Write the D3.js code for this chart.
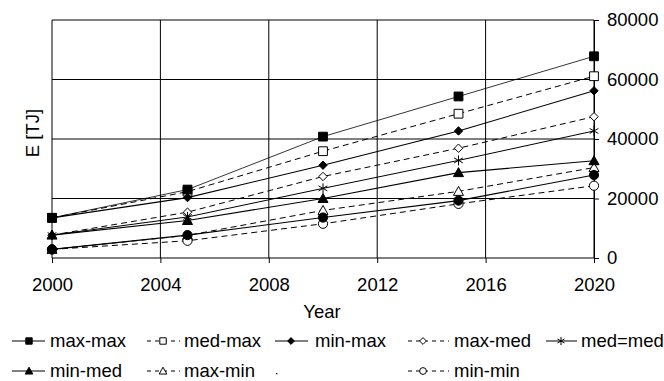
<!DOCTYPE html>
<html><head><meta charset="utf-8">
<script src="https://cdn.jsdelivr.net/npm/d3@7"></script>
<style>
html,body{margin:0;padding:0;background:#fff;}
svg{display:block;font-family:"Liberation Sans",Arial,sans-serif;}
</style></head>
<body>
<svg id="chart" width="664" height="381"></svg>
<script>
// ---- data ----
const years = [2000, 2005, 2010, 2015, 2020];
const xTicks = [2000, 2004, 2008, 2012, 2016, 2020];
const yTicks = [0, 20000, 40000, 60000, 80000];
const seriesNames = ["max-max","med-max","min-max","max-med","med=med","min-med","max-min","med-min","min-min"];
const legendLabels = ["max-max","med-max","min-max","max-med","med=med","min-med","max-min","","min-min"];
const maxMax = [13500, 23000, 40800, 54300, 67800];
const medMax = [13500, 22300, 35900, 48500, 61100];
const minMax = [13500, 20300, 31200, 42700, 56200];
const maxMed = [7700, 15400, 27400, 36900, 47500];
const medMed = [7700, 13800, 23400, 32800, 42700];
const minMed = [7700, 12600, 20000, 28700, 32700];
const maxMin = [2900, 7600, 16000, 22400, 30400];
const medMin = [2900, 7700, 13600, 19300, 27900];
const minMin = [2900, 5800, 11500, 18200, 24300];
const seriesValues = [maxMax, medMax, minMax, maxMed, medMed, minMed, maxMin, medMin, minMin];

// ---- styles ----
const styles = [
  {marker:"square",  fill:true,  dash:null, w:0.8},
  {marker:"square",  fill:false, dash:"6,4", w:1},
  {marker:"diamond", fill:true,  dash:null, w:1.1},
  {marker:"diamond", fill:false, dash:"6,4", w:1},
  {marker:"star",    fill:false, dash:null, w:1},
  {marker:"triangle",fill:true,  dash:null, w:1.1},
  {marker:"triangle",fill:false, dash:"6,4", w:1},
  {marker:"circle",  fill:true,  dash:null, w:1.1},
  {marker:"circle",  fill:false, dash:"6,4", w:1}
];

const svg = d3.select("#chart");
const L = 52, R = 594, T = 20, B = 258;
const x = d3.scaleLinear().domain([2000, 2020]).range([L, R]);
const y = d3.scaleLinear().domain([0, 80000]).range([B, T]);
const FS = 18.5, LFS = 18.5;

function markerPath(type, r) {
  const p = d3.path();
  if (type === "square") { p.rect(-r, -r, 2*r, 2*r); }
  else if (type === "diamond") { p.moveTo(0,-r); p.lineTo(r,0); p.lineTo(0,r); p.lineTo(-r,0); p.closePath(); }
  else if (type === "triangle") { p.moveTo(0,-r); p.lineTo(r,r*0.8); p.lineTo(-r,r*0.8); p.closePath(); }
  else if (type === "circle") { p.moveTo(r,0); p.arc(0,0,r,0,2*Math.PI); p.closePath(); }
  else if (type === "star") {
    p.moveTo(0,-r); p.lineTo(0,r);
    const a = r*0.87, b = r*0.5;
    p.moveTo(-a,-b); p.lineTo(a,b);
    p.moveTo(-a,b); p.lineTo(a,-b);
  }
  return p.toString();
}
const plotR = {square:4.4, diamond:4.2, triangle:5, circle:4.6, star:5};
const legR = {square:3.2, diamond:3.4, triangle:3.8, circle:3.4, star:4};

// grid
svg.append("g").selectAll("line.v").data(xTicks).join("line")
  .attr("x1", d => x(d)).attr("x2", d => x(d)).attr("y1", T).attr("y2", B)
  .attr("stroke", "#000").attr("stroke-width", 1);
svg.append("g").selectAll("line.h").data(yTicks).join("line")
  .attr("x1", L).attr("x2", R).attr("y1", d => y(d)).attr("y2", d => y(d))
  .attr("stroke", "#000").attr("stroke-width", 1);

// axes
const xAxis = svg.append("g").attr("transform", `translate(0,${B})`)
  .call(d3.axisBottom(x).tickValues(xTicks).tickFormat(d3.format("d")).tickSize(5).tickSizeOuter(0).tickPadding(15));
xAxis.select(".domain").remove();
xAxis.selectAll("text").attr("font-size", FS).attr("font-family", "Liberation Sans, Arial, sans-serif").attr("fill", "#000");
xAxis.selectAll("line").attr("stroke", "#000");

const yAxis = svg.append("g").attr("transform", `translate(${R},0)`)
  .call(d3.axisRight(y).tickValues(yTicks).tickFormat(d3.format("d")).tickSize(5).tickSizeOuter(0).tickPadding(8));
yAxis.select(".domain").attr("stroke", "#000");
yAxis.selectAll("text").attr("font-size", FS).attr("font-family", "Liberation Sans, Arial, sans-serif").attr("fill", "#000");
yAxis.selectAll("line").attr("stroke", "#000");

// axis titles
svg.append("text").attr("x", 322).attr("y", 318).attr("text-anchor", "middle")
  .attr("font-size", FS).text("Year");
svg.append("text").attr("transform", "translate(39,133) rotate(-90)").attr("text-anchor", "middle")
  .attr("font-size", FS).text("E [TJ]");

// lines
const line = d3.line().x((d, i) => x(years[i])).y(d => y(d));
const gLines = svg.append("g");
seriesValues.forEach((vals, k) => {
  const s = styles[k];
  gLines.append("path").attr("d", line(vals)).attr("fill", "none")
    .attr("stroke", "#000").attr("stroke-width", s.w)
    .attr("stroke-dasharray", s.dash);
});
// markers: hollow first, then filled
const order = d3.range(seriesValues.length).sort((a, b) => (styles[a].fill ? 1 : 0) - (styles[b].fill ? 1 : 0));
const gMarks = svg.append("g");
order.forEach(k => {
  const s = styles[k];
  gMarks.append("g").selectAll("path").data(seriesValues[k]).join("path")
    .attr("transform", (d, i) => `translate(${x(years[i])},${y(d)})`)
    .attr("d", markerPath(s.marker, plotR[s.marker]))
    .attr("fill", s.marker === "star" ? "none" : (s.fill ? "#000" : "#fff"))
    .attr("stroke", "#000").attr("stroke-width", 1);
});

// legend: per column line start, line end, marker x, text x
const legCols = [
  {x0:12,  x1:45,  m:29,  t:50},
  {x0:147, x1:180, m:163, t:184},
  {x0:275, x1:308, m:291, t:315},
  {x0:408, x1:449, m:423, t:454},
  {x0:546, x1:577, m:561, t:581}
];
const rowY = [341, 371];
legendLabels.forEach((lab, k) => {
  const c = legCols[k % 5], ry = rowY[Math.floor(k / 5)];
  const s = styles[k];
  const g = svg.append("g").attr("transform", `translate(0,${ry})`);
  if (lab === "") {
    g.append("rect").attr("x", c.x0 + 1).attr("y", 2).attr("width", 1.3).attr("height", 1.3).attr("fill", "#000");
    return;
  }
  g.append("line").attr("x1", c.x0).attr("x2", c.x1).attr("y1", 0).attr("y2", 0)
    .attr("stroke", "#000").attr("stroke-width", 1)
    .attr("stroke-dasharray", s.dash ? "4,4" : null);
  g.append("path").attr("transform", `translate(${c.m},0)`)
    .attr("d", markerPath(s.marker, legR[s.marker]))
    .attr("fill", s.marker === "star" ? "none" : (s.fill ? "#000" : "#fff"))
    .attr("stroke", "#000").attr("stroke-width", 1);
  g.append("text").attr("x", c.t).attr("y", 0).attr("dy", "0.35em")
    .attr("font-size", LFS).text(lab);
});
</script>
</body></html>
